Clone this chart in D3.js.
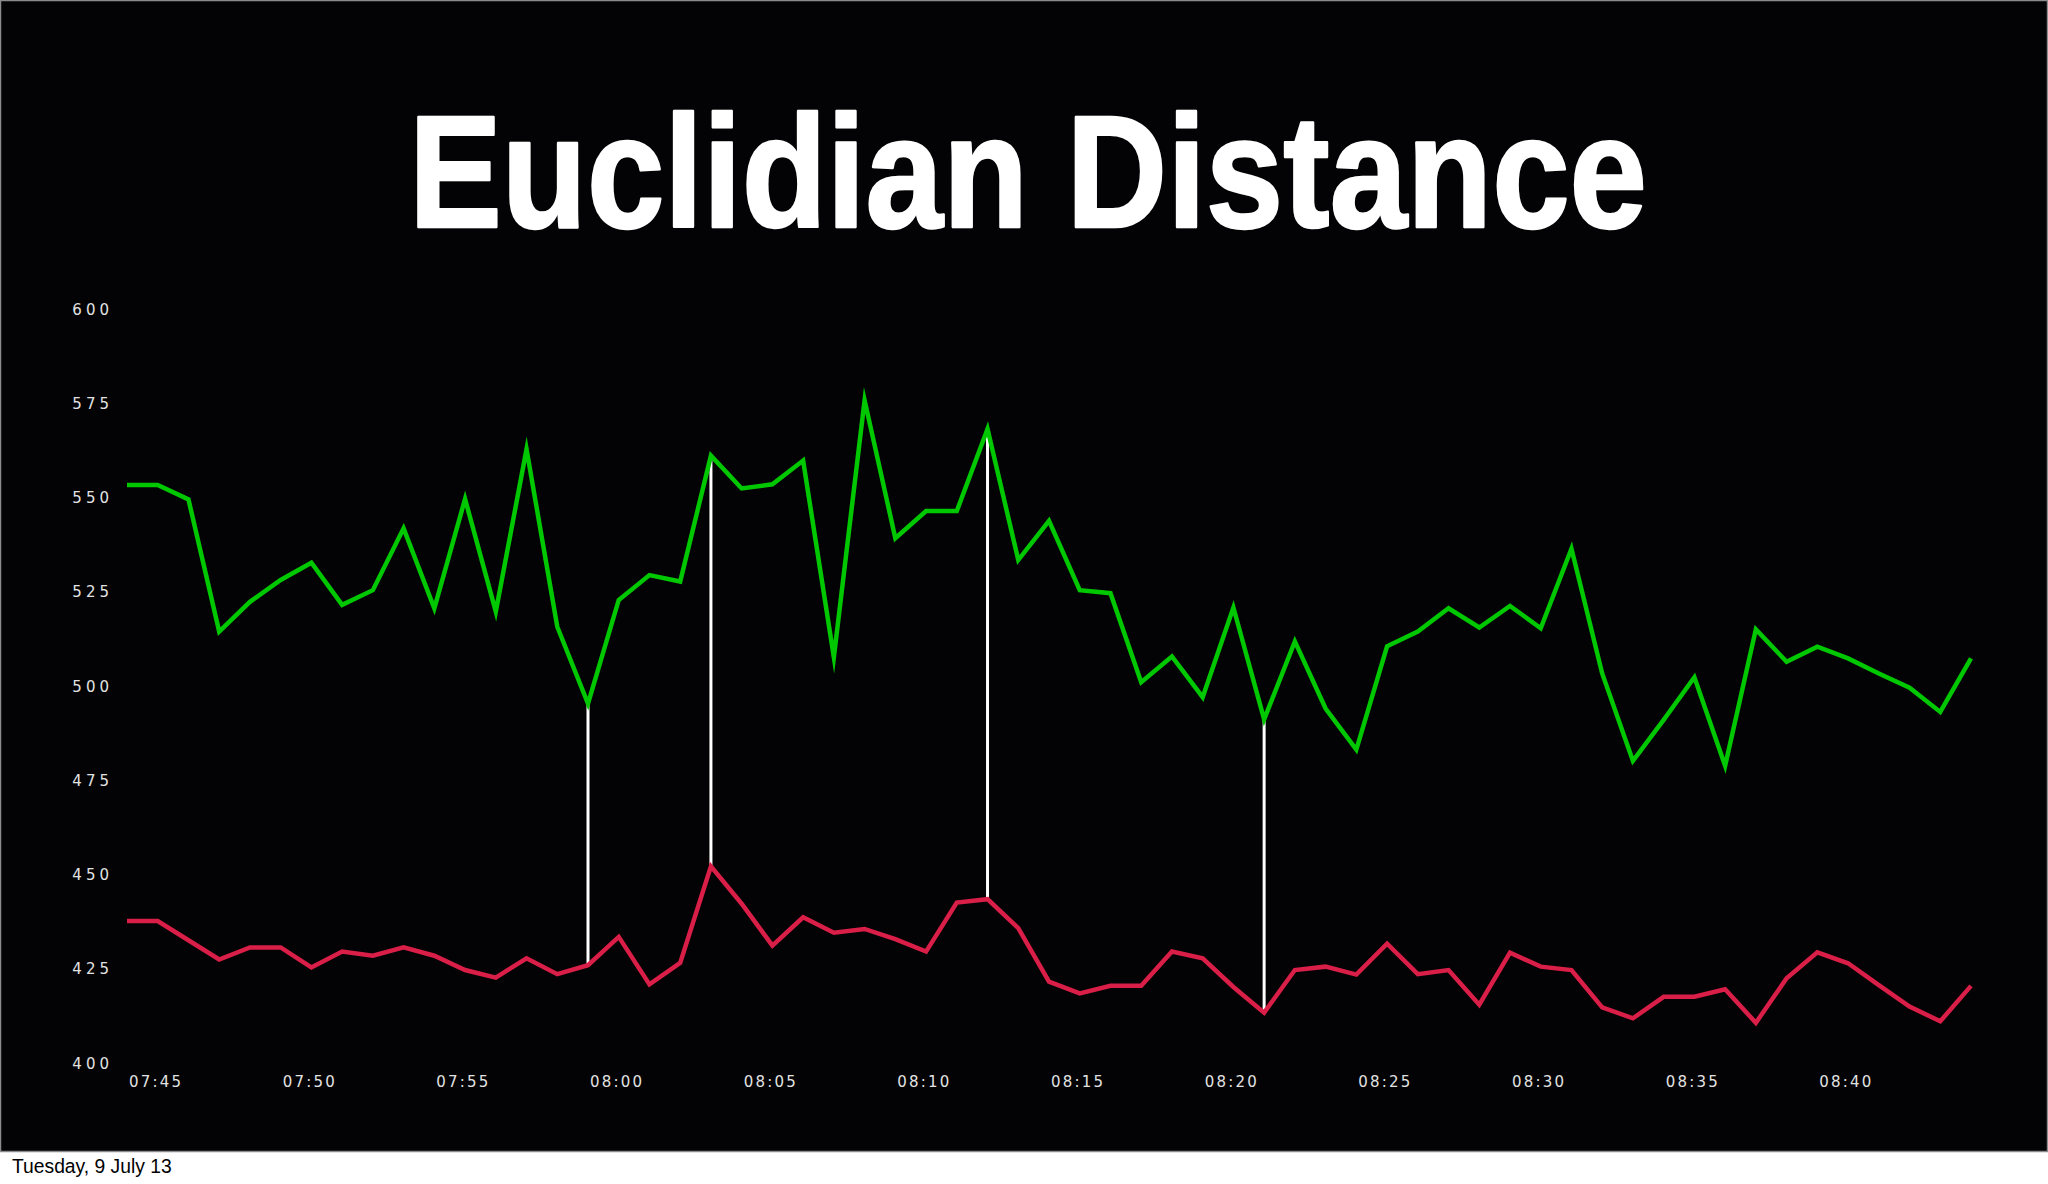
<!DOCTYPE html>
<html>
<head>
<meta charset="utf-8">
<script src="https://cdn.jsdelivr.net/npm/d3@7"></script>
<style>
  html, body { margin: 0; padding: 0; background: #ffffff; }
  svg { display: block; }
</style>
</head>
<body>
<svg id="chart" width="2048" height="1184"></svg>
<script>
// ---- data ----
const titleText = "Euclidian Distance";
const captionText = "Tuesday, 9 July 13";
const startTime = "07:45";
// one value per minute from 07:45 to 08:45
const greenValues = [553.5,553.5,549.7,514.6,522.5,528.3,532.9,521.7,525.6,542,520.8,549.8,519.9,563,515.9,495.5,523,529.6,527.9,561.3,
  552.6,553.7,560,507.8,576,539.4,546.6,546.6,568.4,533.6,544,525.6,524.8,501.2,508,497.2,521,491.3,512,494.2,483.3,
  510.7,514.6,520.8,515.7,521.4,515.5,536.6,503.5,480.3,491.2,502.5,479,515.2,506.6,510.6,507.5,503.5,499.7,493.3,507.5];
const redValues = [437.8,437.8,432.7,427.6,430.8,430.8,425.5,429.7,428.6,430.8,428.6,424.8,422.8,427.9,423.7,426.1,433.6,421,426.7,452.3,
  442.4,431.3,438.8,434.7,435.7,433,429.7,442.7,443.6,435.9,421.7,418.6,420.6,420.6,429.7,427.9,420.3,413.5,424.8,425.7,423.6,
  431.8,423.7,424.8,415.6,429.4,425.7,424.8,414.9,412,417.7,417.7,419.7,410.8,422.6,429.5,426.6,420.8,415.1,411.2,420.6];
const markerTimes = ["08:00","08:04","08:13","08:22"];
const yTicks = [400,425,450,475,500,525,550,575,600];
const xTickLabels = ["07:45","07:50","07:55","08:00","08:05","08:10","08:15","08:20","08:25","08:30","08:35","08:40"];

// ---- helpers ----
const parseT = d3.timeParse("%H:%M");
const t0 = parseT(startTime);
const times = greenValues.map((_, i) => d3.timeMinute.offset(t0, i));

const W = 2048, H = 1184;
const svg = d3.select("#chart");

// slide background
svg.append("rect").attr("x", 0).attr("y", 0).attr("width", W).attr("height", H).attr("fill", "#ffffff");
svg.append("rect").attr("x", 0.5).attr("y", 0.5).attr("width", W - 1).attr("height", 1151)
  .attr("fill", "#030204").attr("stroke", "#8a8a8a").attr("stroke-width", 1.5);

// title
svg.append("text")
  .attr("x", 409).attr("y", 227)
  .attr("textLength", 1238).attr("lengthAdjust", "spacingAndGlyphs")
  .attr("font-family", "'Liberation Sans', Arial, Helvetica, sans-serif")
  .attr("font-weight", "bold").attr("font-size", 160)
  .attr("fill", "#ffffff").attr("stroke", "#ffffff").attr("stroke-width", 2.5)
  .attr("stroke-linejoin", "round")
  .text(titleText);

// scales
const x = d3.scaleTime()
  .domain([times[0], times[times.length - 1]])
  .range([127, 1971]);
const y = d3.scaleLinear().domain([400, 600]).range([1063.5, 309.8]);

// y axis labels
svg.append("g").selectAll("text").data(yTicks).join("text")
  .attr("x", 113).attr("y", d => y(d))
  .attr("text-anchor", "end").attr("dominant-baseline", "central")
  .attr("font-family", "'DejaVu Sans', sans-serif").attr("font-size", 15)
  .attr("letter-spacing", 4)
  .attr("fill", "#e2e2e2")
  .text(d => d);

// x axis labels
svg.append("g").selectAll("text").data(xTickLabels).join("text")
  .attr("x", d => x(parseT(d)) + 2).attr("y", 1082)
  .attr("text-anchor", "start").attr("dominant-baseline", "central")
  .attr("font-family", "'DejaVu Sans', sans-serif").attr("font-size", 15)
  .attr("letter-spacing", 2.2)
  .attr("fill", "#e2e2e2")
  .text(d => d);

// marker lines (white) connecting the two series
const markers = markerTimes.map(s => {
  const t = parseT(s);
  const i = d3.timeMinute.count(t0, t);
  return { t, g: greenValues[i], r: redValues[i] };
});
svg.append("g").selectAll("line").data(markers).join("line")
  .attr("x1", d => x(d.t)).attr("x2", d => x(d.t))
  .attr("y1", d => y(d.g)).attr("y2", d => y(d.r))
  .attr("stroke", "#ffffff").attr("stroke-width", 3);

// series lines
const line = d3.line().x(d => x(d[0])).y(d => y(d[1]));
svg.append("path")
  .datum(times.map((t, i) => [t, greenValues[i]]))
  .attr("d", line).attr("fill", "none")
  .attr("stroke", "#00c800").attr("stroke-width", 4.5)
  .attr("stroke-linejoin", "miter").attr("stroke-miterlimit", 10);
svg.append("path")
  .datum(times.map((t, i) => [t, redValues[i]]))
  .attr("d", line).attr("fill", "none")
  .attr("stroke", "#d91e48").attr("stroke-width", 4.5)
  .attr("stroke-linejoin", "miter").attr("stroke-miterlimit", 10);

// caption
svg.append("text")
  .attr("x", 12).attr("y", 1173)
  .attr("font-family", "'Liberation Sans', Arial, Helvetica, sans-serif")
  .attr("font-size", 19.3).attr("fill", "#000000")
  .text(captionText);
</script>
</body>
</html>
